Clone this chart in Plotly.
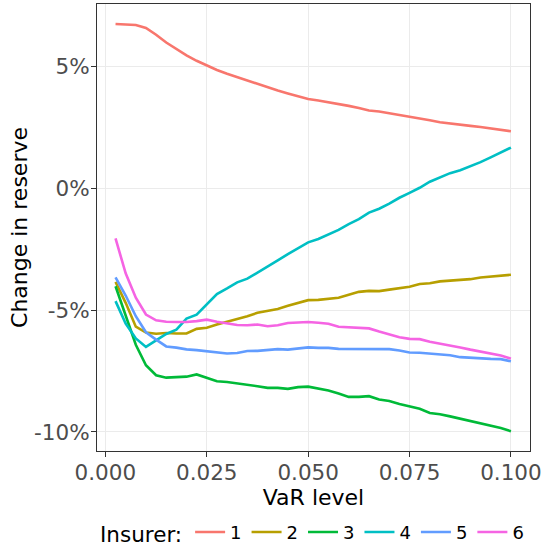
import plotly.graph_objects as go

# VaR levels 0.0025 .. 0.100
var_level = [round(0.0025 * i, 4) for i in range(1, 41)]

# Change in reserve (%) per insurer
insurer_1 = [6.74, 6.71, 6.70, 6.58, 6.30, 5.98, 5.71, 5.45, 5.23, 5.03,
             4.85, 4.70, 4.56, 4.40, 4.26, 4.13, 4.01, 3.89, 3.77, 3.66,
             3.60, 3.53, 3.48, 3.38, 3.29, 3.19, 3.15, 3.08, 3.03, 2.96,
             2.88, 2.79, 2.71, 2.67, 2.63, 2.56, 2.51, 2.45, 2.40, 2.34]
insurer_2 = [-3.84, -4.70, -5.68, -5.92, -5.97, -5.94, -5.96, -5.96, -5.77, -5.72,
             -5.59, -5.48, -5.38, -5.25, -5.11, -5.03, -4.95, -4.82, -4.70, -4.59,
             -4.58, -4.53, -4.49, -4.37, -4.25, -4.21, -4.22, -4.16, -4.11, -4.04,
             -3.93, -3.90, -3.82, -3.79, -3.77, -3.73, -3.66, -3.63, -3.59, -3.55]
insurer_3 = [-4.02, -5.25, -6.42, -7.26, -7.67, -7.77, -7.76, -7.73, -7.64, -7.77,
             -7.92, -7.95, -8.00, -8.08, -8.12, -8.19, -8.19, -8.23, -8.16, -8.14,
             -8.22, -8.30, -8.42, -8.56, -8.56, -8.53, -8.67, -8.73, -8.85, -8.96,
             -9.05, -9.22, -9.27, -9.36, -9.45, -9.56, -9.66, -9.74, -9.84, -9.97]
insurer_4 = [-4.63, -5.55, -6.16, -6.51, -6.24, -5.98, -5.80, -5.35, -5.19, -4.78,
             -4.34, -4.11, -3.86, -3.71, -3.47, -3.22, -2.96, -2.70, -2.47, -2.22,
             -2.08, -1.88, -1.71, -1.47, -1.27, -1.00, -0.84, -0.63, -0.39, -0.19,
             0.02, 0.27, 0.46, 0.62, 0.74, 0.89, 1.07, 1.27, 1.46, 1.67]
insurer_5 = [-3.66, -4.40, -5.25, -5.91, -6.21, -6.49, -6.54, -6.61, -6.64, -6.68,
             -6.75, -6.78, -6.76, -6.68, -6.67, -6.64, -6.60, -6.62, -6.58, -6.53,
             -6.55, -6.55, -6.59, -6.59, -6.59, -6.58, -6.59, -6.60, -6.66, -6.74,
             -6.75, -6.78, -6.79, -6.85, -6.93, -6.96, -6.99, -7.00, -7.01, -7.10]
insurer_6 = [-2.06, -3.49, -4.49, -5.18, -5.42, -5.48, -5.49, -5.49, -5.45, -5.39,
             -5.48, -5.55, -5.61, -5.62, -5.59, -5.66, -5.62, -5.53, -5.52, -5.49,
             -5.52, -5.56, -5.68, -5.70, -5.71, -5.75, -5.88, -6.01, -6.11, -6.18,
             -6.19, -6.30, -6.37, -6.44, -6.53, -6.62, -6.70, -6.78, -6.86, -6.99]

series_names = ["1", "2", "3", "4", "5", "6"]
series_values = [insurer_1, insurer_2, insurer_3, insurer_4, insurer_5, insurer_6]
colors = ["#F8766D", "#B79F00", "#00BA38", "#00BFC4", "#619CFF", "#F564E3"]

x_ticks = [0.0, 0.025, 0.05, 0.075, 0.1]
x_ticktext = ["0.000", "0.025", "0.050", "0.075", "0.100"]
y_ticks = [5, 0, -5, -10]
y_ticktext = ["5%", "0%", "-5%", "-10%"]

FONT = "DejaVu Sans"

fig = go.Figure()
for name, vals, col in zip(series_names, series_values, colors):
    fig.add_trace(go.Scatter(
        x=var_level, y=vals, mode="lines", name=name,
        line=dict(color=col, width=2.6),
    ))

axis_common = dict(
    showline=True, linecolor="#333333", linewidth=1.2, mirror=True,
    showgrid=True, gridcolor="#EBEBEB", gridwidth=1,
    zeroline=False, automargin=False,
    ticks="outside", ticklen=5, tickcolor="#333333", tickwidth=1,
    tickfont=dict(family=FONT, size=21.5, color="#4D4D4D"),
)

fig.update_xaxes(
    **axis_common,
    range=[-0.00207, 0.1047],
    tickvals=x_ticks, ticktext=x_ticktext,
    ticklabelstandoff=-3,
    title=dict(text="VaR level", font=dict(family=FONT, size=22, color="black"), standoff=3),
)
fig.update_yaxes(
    **axis_common,
    range=[-10.78, 7.56],
    tickvals=y_ticks, ticktext=y_ticktext,
    ticklabelstandoff=-3,
    title=dict(text="Change in reserve", font=dict(family=FONT, size=22, color="black"), standoff=0),
)

fig.update_layout(
    width=544, height=548,
    margin=dict(l=97, r=14, t=4, b=97, autoexpand=False),
    paper_bgcolor="white", plot_bgcolor="white",
    font=dict(family=FONT),
    legend=dict(
        orientation="h", x=0.5, xanchor="center", y=-0.183, yanchor="middle",
        title=dict(text="Insurer:", font=dict(family=FONT, size=21.5, color="black"), side="left"),
        font=dict(family=FONT, size=18, color="black"),
        itemwidth=30, tracegroupgap=0,
    ),
)

fig.write_html("out.html")
